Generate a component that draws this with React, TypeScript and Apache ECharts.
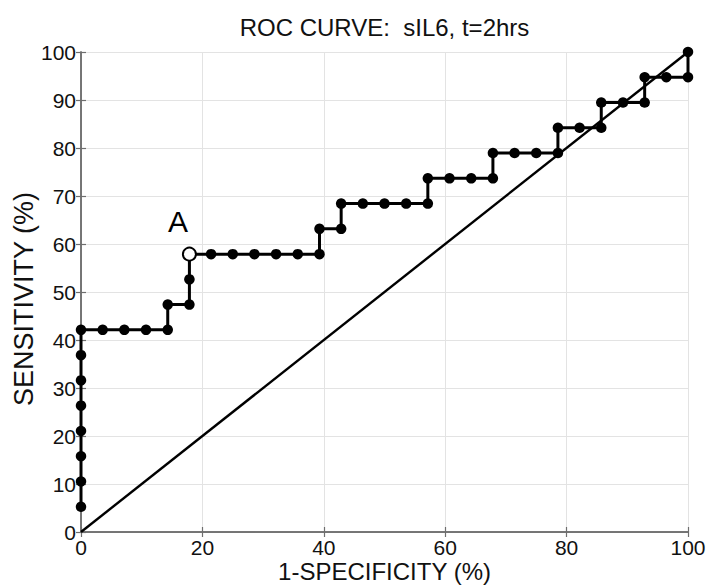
import React, { useEffect, useRef } from "react";
import * as echarts from "echarts";

const titleText = "ROC CURVE:  sIL6, t=2hrs";
const xAxisLabel = "1-SPECIFICITY (%)";
const yAxisLabel = "SENSITIVITY (%)";
const tickValues = [0, 20, 40, 60, 80, 100];

// 1-specificity (%) of each ROC point
const specificity = [
  0, 0, 0, 0, 0, 0, 0, 0,
  3.57, 7.14, 10.71, 14.29, 14.29, 17.86, 17.86, 17.86,
  21.43, 25.0, 28.57, 32.14, 35.71, 39.29, 39.29, 42.86, 42.86,
  46.43, 50.0, 53.57, 57.14, 57.14, 60.71, 64.29, 67.86, 67.86,
  71.43, 75.0, 78.57, 78.57, 82.14, 85.71, 85.71, 89.29, 92.86, 92.86,
  96.43, 100, 100,
];
// sensitivity (%) of each ROC point
const sensitivity = [
  5.26, 10.53, 15.79, 21.05, 26.32, 31.58, 36.84, 42.11,
  42.11, 42.11, 42.11, 42.11, 47.37, 47.37, 52.63, 57.89,
  57.89, 57.89, 57.89, 57.89, 57.89, 57.89, 63.16, 63.16, 68.42,
  68.42, 68.42, 68.42, 68.42, 73.68, 73.68, 73.68, 73.68, 78.95,
  78.95, 78.95, 78.95, 84.21, 84.21, 84.21, 89.47, 89.47, 89.47, 94.74,
  94.74, 94.74, 100,
];
// chance line
const chanceX = [0, 100];
const chanceY = [0, 100];
// highlighted point A
const pointA = { label: "A", x: 17.86, y: 57.89 };

export default function App() {
  const ref = useRef<HTMLDivElement>(null);
  useEffect(() => {
    if (!ref.current) return;
    const chart = echarts.init(ref.current, null, { renderer: "svg" });
    const font = "'Liberation Sans', Arial, sans-serif";
    const axisLineColor = "#6e6e6e";
    const grid = { left: 81, right: 21, top: 52, bottom: 53 };
    const common = {
      type: "value",
      min: 0,
      max: 100,
      interval: 20,
      axisLine: { show: true, lineStyle: { color: axisLineColor, width: 1.5 } },
      axisTick: { show: true, inside: true, length: 5, lineStyle: { color: axisLineColor, width: 1.2 } },
    };
    chart.setOption({
      animation: false,
      backgroundColor: "#ffffff",
      grid,
      xAxis: [
        {
          ...common,
          position: "bottom",
          axisLabel: { color: "#111", fontSize: 21, fontFamily: font, margin: 5,
            formatter: (v: number) => (tickValues.includes(v) ? String(v) : "") },
          splitLine: { show: true, lineStyle: { color: "#e3e3e3", width: 1 } },
        },
        {
          ...common,
          position: "top",
          axisLabel: { show: false },
          splitLine: { show: false },
        },
      ],
      yAxis: [
        {
          ...common,
          interval: 10,
          position: "left",
          axisLabel: { color: "#111", fontSize: 21, fontFamily: font, margin: 5 },
          splitLine: { show: true, lineStyle: { color: "#e3e3e3", width: 1 } },
        },
        {
          ...common,
          interval: 10,
          position: "right",
          axisLabel: { show: false },
          splitLine: { show: false },
        },
      ],
      graphic: [
        {
          type: "text",
          x: 384.5,
          y: 27,
          style: { text: titleText, font: `24px ${font}`, fill: "#111", textAlign: "center", textVerticalAlign: "middle" },
        },
        {
          type: "text",
          x: 384.5,
          y: 571,
          style: { text: xAxisLabel, font: `24px ${font}`, fill: "#111", textAlign: "center", textVerticalAlign: "middle" },
        },
        {
          type: "text",
          x: 24,
          y: 299,
          rotation: Math.PI / 2,
          style: { text: yAxisLabel, font: `27px ${font}`, fill: "#111", textAlign: "center", textVerticalAlign: "middle" },
        },
      ],
      series: [
        {
          type: "line",
          data: chanceX.map((x, i) => [x, chanceY[i]]),
          symbol: "none",
          lineStyle: { color: "#000", width: 2.4 },
          z: 2,
        },
        {
          type: "line",
          data: specificity.map((x, i) => [x, sensitivity[i]]),
          symbol: "circle",
          symbolSize: 10.5,
          showAllSymbol: true,
          itemStyle: { color: "#000" },
          lineStyle: { color: "#000", width: 3 },
          z: 3,
        },
        {
          type: "scatter",
          data: [[pointA.x, pointA.y]],
          symbol: "circle",
          symbolSize: 13,
          itemStyle: { color: "#fff", borderColor: "#000", borderWidth: 2, opacity: 1 },
          label: {
            show: true,
            formatter: pointA.label,
            position: [-14, -40],
            fontSize: 30,
            fontFamily: font,
            color: "#000",
          },
          z: 4,
        },
      ],
    });
    return () => chart.dispose();
  }, []);
  return <div ref={ref} style={{ width: 709, height: 585, position: "fixed", left: 0, top: 0 }} />;
}
